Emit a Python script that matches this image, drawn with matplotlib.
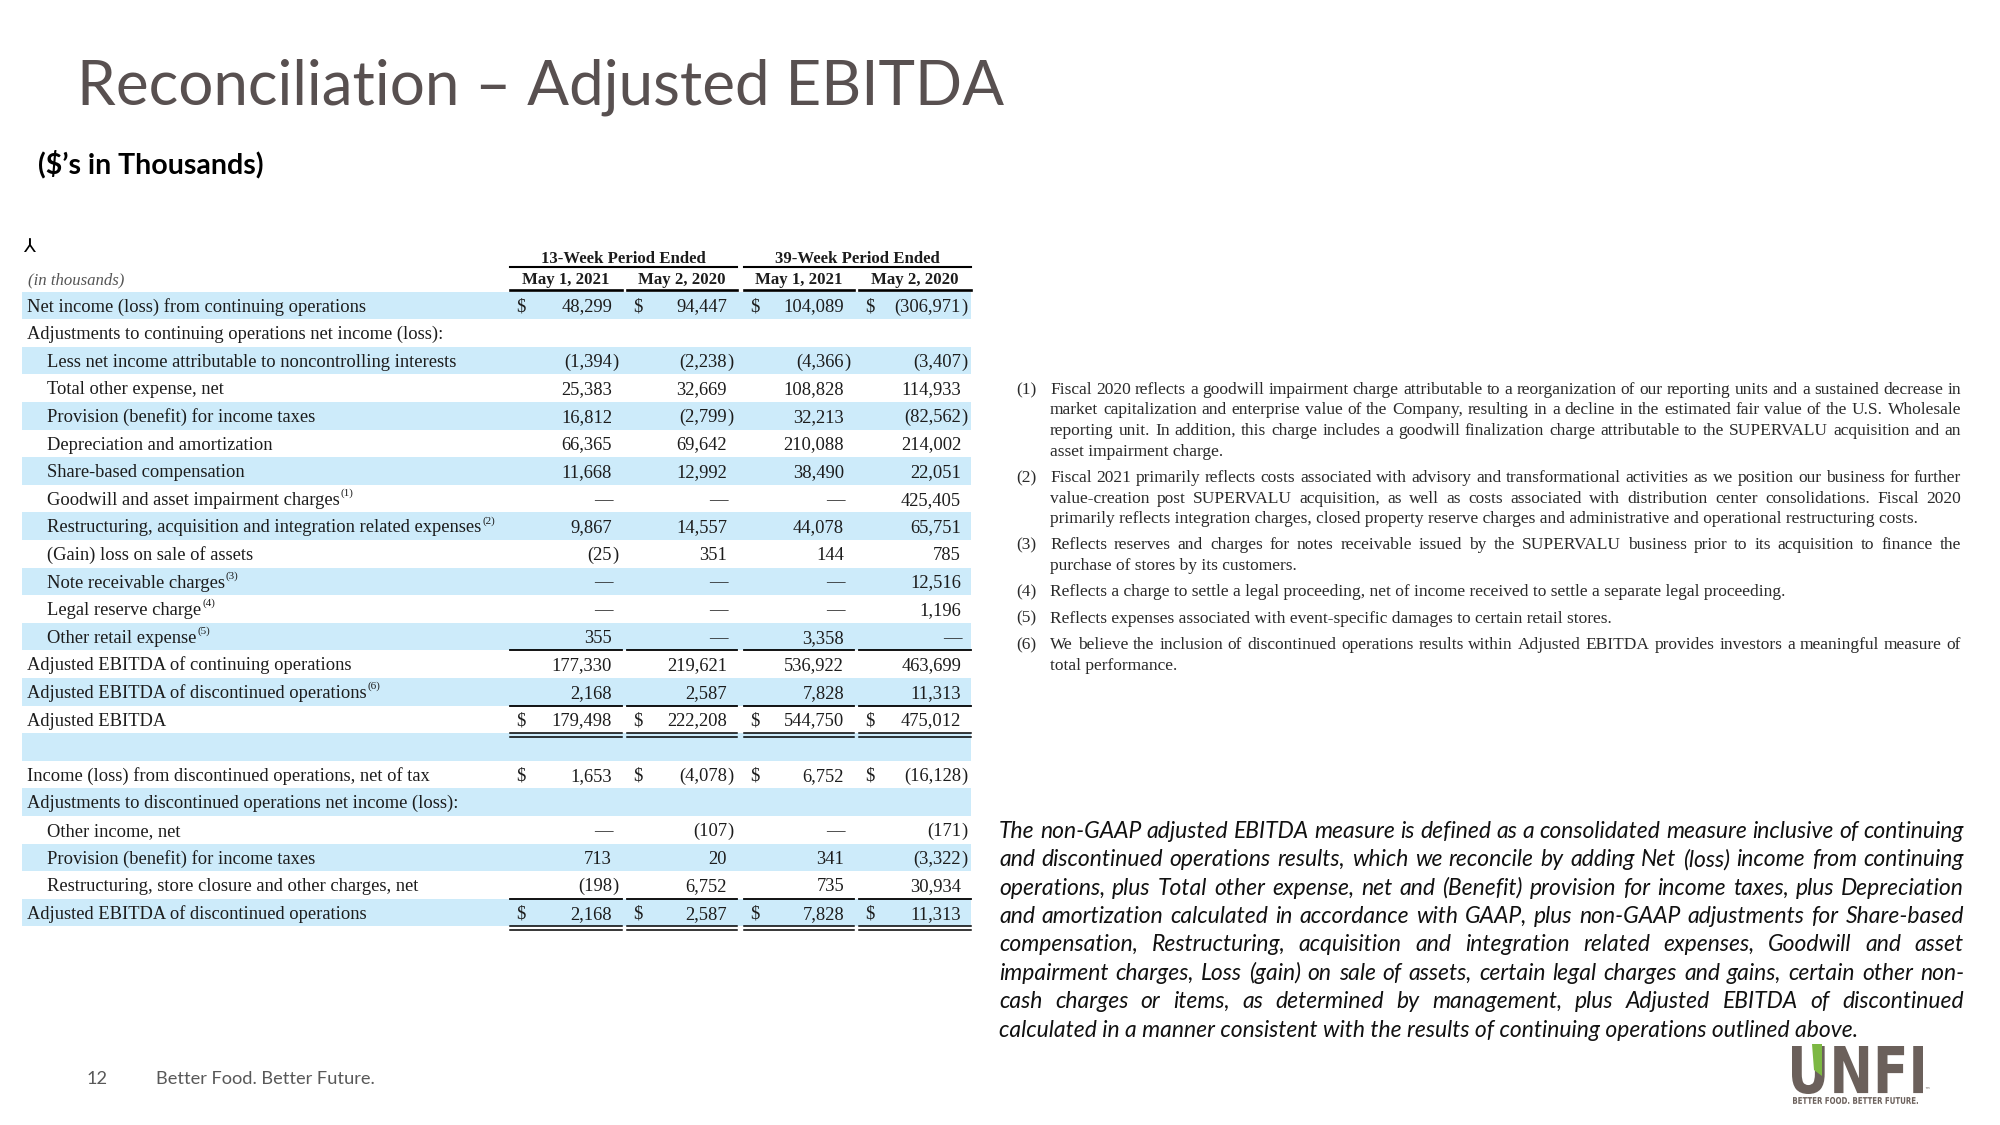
import matplotlib.pyplot as plt
from matplotlib.patches import Rectangle, PathPatch, Polygon
from matplotlib.textpath import TextPath
from matplotlib.font_manager import FontProperties
from matplotlib.transforms import Affine2D

# ---- table data ($ in thousands); None = no value, 0 = dash ----
labels = [
    "Net income (loss) from continuing operations",
    "Adjustments to continuing operations net income (loss):",
    "Less net income attributable to noncontrolling interests",
    "Total other expense, net",
    "Provision (benefit) for income taxes",
    "Depreciation and amortization",
    "Share-based compensation",
    "Goodwill and asset impairment charges",
    "Restructuring, acquisition and integration related expenses",
    "(Gain) loss on sale of assets",
    "Note receivable charges",
    "Legal reserve charge",
    "Other retail expense",
    "Adjusted EBITDA of continuing operations",
    "Adjusted EBITDA of discontinued operations",
    "Adjusted EBITDA",
    "",
    "Income (loss) from discontinued operations, net of tax",
    "Adjustments to discontinued operations net income (loss):",
    "Other income, net",
    "Provision (benefit) for income taxes",
    "Restructuring, store closure and other charges, net",
    "Adjusted EBITDA of discontinued operations",
]
indent = [0, 0, 1, 1, 1, 1, 1, 1, 1, 1, 1, 1, 1, 0, 0, 0, 0, 0, 0, 1, 1, 1, 0]
note_marks = ["", "", "", "", "", "", "", "(1)", "(2)", "", "(3)", "(4)", "(5)",
              "", "(6)", "", "", "", "", "", "", "", ""]

wk13_2021 = [48299, None, -1394, 25383, 16812, 66365, 11668, 0, 9867, -25, 0, 0, 355,
             177330, 2168, 179498, None, 1653, None, 0, 713, -198, 2168]
wk13_2020 = [94447, None, -2238, 32669, -2799, 69642, 12992, 0, 14557, 351, 0, 0, 0,
             219621, 2587, 222208, None, -4078, None, -107, 20, 6752, 2587]
wk39_2021 = [104089, None, -4366, 108828, 32213, 210088, 38490, 0, 44078, 144, 0, 0, 3358,
             536922, 7828, 544750, None, 6752, None, 0, 341, 735, 7828]
wk39_2020 = [-306971, None, -3407, 114933, -82562, 214002, 22051, 425405, 65751, 785, 12516, 1196, 0,
             463699, 11313, 475012, None, -16128, None, -171, -3322, 30934, 11313]
columns = [wk13_2021, wk13_2020, wk39_2021, wk39_2020]
dollar_rows = [0, 15, 17, 22]

period_headers = ["13-Week Period Ended", "39-Week Period Ended"]
date_headers = ["May 1, 2021", "May 2, 2020", "May 1, 2021", "May 2, 2020"]

footnotes = [
    ["Fiscal 2020 reflects a goodwill impairment charge attributable to a reorganization of our reporting units and a sustained decrease in",
     "market capitalization and enterprise value of the Company, resulting in a decline in the estimated fair value of the U.S. Wholesale",
     "reporting unit. In addition, this charge includes a goodwill finalization charge attributable to the SUPERVALU acquisition and an",
     "asset impairment charge."],
    ["Fiscal 2021 primarily reflects costs associated with advisory and transformational activities as we position our business for further",
     "value-creation post SUPERVALU acquisition, as well as costs associated with distribution center consolidations. Fiscal 2020",
     "primarily reflects integration charges, closed property reserve charges and administrative and operational restructuring costs."],
    ["Reflects reserves and charges for notes receivable issued by the SUPERVALU business prior to its acquisition to finance the",
     "purchase of stores by its customers."],
    ["Reflects a charge to settle a legal proceeding, net of income received to settle a separate legal proceeding."],
    ["Reflects expenses associated with event-specific damages to certain retail stores."],
    ["We believe the inclusion of discontinued operations results within Adjusted EBITDA provides investors a meaningful measure of",
     "total performance."],
]

paragraph = [
    "The non-GAAP adjusted EBITDA measure is defined as a consolidated measure inclusive of continuing",
    "and discontinued operations results, which we reconcile by adding Net (loss) income from continuing",
    "operations, plus Total other expense, net and (Benefit) provision for income taxes, plus Depreciation",
    "and amortization calculated in accordance with GAAP, plus non-GAAP adjustments for Share-based",
    "compensation, Restructuring, acquisition and integration related expenses, Goodwill and asset",
    "impairment charges, Loss (gain) on sale of assets, certain legal charges and gains, certain other non-",
    "cash charges or items, as determined by management, plus Adjusted EBITDA of discontinued",
    "calculated in a manner consistent with the results of continuing operations outlined above.",
]

# ---- canvas in pixel coordinates ----
W, H = 2000, 1125
fig = plt.figure(figsize=(20, 11.25), dpi=100)
ax = fig.add_axes([0, 0, 1, 1])
ax.set_xlim(0, W)
ax.set_ylim(H, 0)
ax.axis("off")
renderer = fig.canvas.get_renderer()

SERIF = "Liberation Serif"
SANS = "Lato"
INK = "#1c1c1c"


def width_of(s, **kw):
    t = ax.text(0, 0, s, **kw)
    w = t.get_window_extent(renderer).width
    t.remove()
    return w


def fit(s, target, **kw):
    return 20 * target / width_of(s, fontsize=20, **kw)


def base(y, fs, cap=0.68):
    # baseline that puts the capitals centred on y
    return y + cap * fs * 100 / 72 / 2


def justify(lines, last, x0, x1, ys, fontsize, **kw):
    for line, is_last, y in zip(lines, last, ys):
        yb = base(y, fontsize)
        if is_last:
            ax.text(x0, yb, line, ha="left", va="baseline", fontsize=fontsize, **kw)
            continue
        words = line.split()
        ws = [width_of(w, fontsize=fontsize, **kw) for w in words]
        gap = (x1 - x0 - sum(ws)) / (len(words) - 1)
        x = x0
        for w, wd in zip(words, ws):
            ax.text(x, yb, w, ha="left", va="baseline", fontsize=fontsize, **kw)
            x += wd + gap


# ---- title ----
title = "Reconciliation \u2013 Adjusted EBITDA"
ax.text(77, 105, title, fontsize=fit(title, 929, family=SANS), family=SANS,
        color="#585050", va="baseline")
sub = "($\u2019s in Thousands)"
sub_fs = fit(sub, 226, family=SANS, weight="bold")
ax.text(38, base(163, sub_fs, 0.72), sub, fontsize=sub_fs,
        family=SANS, weight="bold", color="black", va="baseline")

# ---- table ----
ROW_TOP, ROW_H = 291.5, 27.6
X0, X1 = 22, 971
col_left = [510, 627, 744, 859]
col_right = [622, 737, 854, 971]
lab_fs = fit(labels[0], 337, family=SERIF)


def yc(i):
    return base(ROW_TOP + ROW_H * (i + 0.5), lab_fs)


for i in range(len(labels)):
    if i % 2 == 0:
        ax.add_patch(Rectangle((X0, ROW_TOP + ROW_H * i), X1 - X0, ROW_H,
                               facecolor="#CDEBFA", edgecolor="none", zorder=0))

ax.text(23, 246, "\u2144", fontsize=14, color="black", ha="left", va="center")
it_fs = fit("(in thousands)", 96, family=SERIF, style="italic")
ax.text(28, base(278.5, it_fs), "(in thousands)", family=SERIF, style="italic",
        fontsize=it_fs, color="#555555", va="baseline")

hdr_fs = fit(period_headers[0], 165, family=SERIF, weight="bold")
for k, h in enumerate(period_headers):
    l, r = col_left[2 * k], col_right[2 * k + 1]
    ax.text((l + r) / 2, base(257.5, hdr_fs), h, family=SERIF, weight="bold", fontsize=hdr_fs,
            color=INK, ha="center", va="baseline")
    ax.plot([l, r], [266.7, 266.7], color="black", lw=1.5)
for c, d in enumerate(date_headers):
    ax.text((col_left[c] + col_right[c]) / 2, base(278.5, hdr_fs), d, family=SERIF, weight="bold",
            fontsize=hdr_fs, color=INK, ha="center", va="baseline")
    ax.plot([col_left[c], col_right[c]], [289.5, 289.5], color="black", lw=1.9)

for i, lab in enumerate(labels):
    if not lab:
        continue
    x = 27 if indent[i] == 0 else 47
    ax.text(x, yc(i), lab, family=SERIF, fontsize=lab_fs, color=INK,
            ha="left", va="baseline")
    if note_marks[i]:
        lw_ = width_of(lab, family=SERIF, fontsize=lab_fs)
        ax.text(x + lw_ + 1, yc(i) - 9, note_marks[i], family=SERIF,
                fontsize=lab_fs * 0.6, color=INK, ha="left", va="baseline")

for c, vals in enumerate(columns):
    xr = col_right[c] - 10
    for i, v in enumerate(vals):
        if v is None:
            continue
        y = yc(i)
        kw = dict(family=SERIF, fontsize=lab_fs, color=INK, va="baseline")
        if i in dollar_rows:
            ax.text(col_left[c] + 6, y, "$", ha="left", **kw)
        if v == 0:
            ax.text(xr + 1, y, "\u2014", ha="right", **kw)
        elif v < 0:
            ax.text(xr, y, "({:,}".format(-v), ha="right", **kw)
            ax.text(xr, y, ")", ha="left", **kw)
        else:
            ax.text(xr, y, "{:,}".format(v), ha="right", **kw)

# total rules
for i in [12, 14, 21]:
    yb = ROW_TOP + ROW_H * (i + 1)
    for c in range(4):
        ax.plot([col_left[c], col_right[c]], [yb, yb], color="black", lw=1.3)
for i in [15, 22]:
    yb = ROW_TOP + ROW_H * (i + 1)
    for c in range(4):
        ax.plot([col_left[c], col_right[c]], [yb, yb], color="black", lw=1.1)
        ax.plot([col_left[c], col_right[c]], [yb + 3.6, yb + 3.6], color="black", lw=1.1)

# ---- footnotes ----
fn_lines, fn_last, fn_y, fn_first = [], [], [], []
n = 0
for p, note in enumerate(footnotes):
    for j, line in enumerate(note):
        y = 388 + 20.6 * n + 5.7 * p
        fn_lines.append(line)
        fn_last.append(j == len(note) - 1)
        fn_y.append(y)
        if j == 0:
            fn_first.append(y)
        n += 1
fn_fs = min(fit(l, 911, family=SERIF) for l, last in zip(fn_lines, fn_last) if not last)
justify(fn_lines, fn_last, 1050, 1961, fn_y, fn_fs, family=SERIF, color="#2a2a2a")
for p, y in enumerate(fn_first):
    ax.text(1016, base(y, fn_fs), "({})".format(p + 1), family=SERIF, fontsize=fn_fs,
            color="#2a2a2a", ha="left", va="baseline")

# ---- italic paragraph ----
par_kw = dict(family=SANS, style="italic")
par_fs = min(fit(l, 965, **par_kw) for l in paragraph[:-1])
par_y = [830 + 28.4 * k for k in range(len(paragraph))]
justify(paragraph, [False] * (len(paragraph) - 1) + [True], 999, 1964, par_y,
        par_fs, color="#111111", **par_kw)

# ---- footer ----
foot = "Better Food. Better Future."
foot_fs = fit(foot, 219, family=SANS)
ax.text(87, base(1077, foot_fs, 0.72), "12", family=SANS, fontsize=foot_fs, color="#595959",
        va="baseline")
ax.text(156, base(1077, foot_fs, 0.72), foot, family=SANS, fontsize=foot_fs, color="#595959",
        va="baseline")


# ---- logo ----
def path_in_box(s, x0, y0, x1, y1, prop):
    tp = TextPath((0, 0), s, size=100, prop=prop)
    bb = tp.get_extents()
    tr = (Affine2D().translate(-bb.x0, -bb.y0)
          .scale((x1 - x0) / bb.width, -(y1 - y0) / bb.height)
          .translate(x0, y1))
    return tr.transform_path(tp)


logo_prop = FontProperties(family="DejaVu Sans", weight="bold")
ax.add_patch(PathPatch(path_in_box("UNFI", 1792, 1046, 1923, 1094, logo_prop),
                       facecolor="#6B605B", edgecolor="none"))
ax.add_patch(Polygon([[1812, 1044], [1822, 1044], [1822, 1076], [1814, 1070]],
                     closed=True, facecolor="#7DB843", edgecolor="none"))
ax.text(1924, 1093, "\u2122", fontsize=4, color="#6B605B", ha="left", va="bottom")
ax.add_patch(PathPatch(path_in_box("BETTER FOOD. BETTER FUTURE.", 1793, 1097, 1918, 1104, logo_prop),
                       facecolor="#6B605B", edgecolor="none"))

fig.savefig("out.png", dpi=100, facecolor="white")
